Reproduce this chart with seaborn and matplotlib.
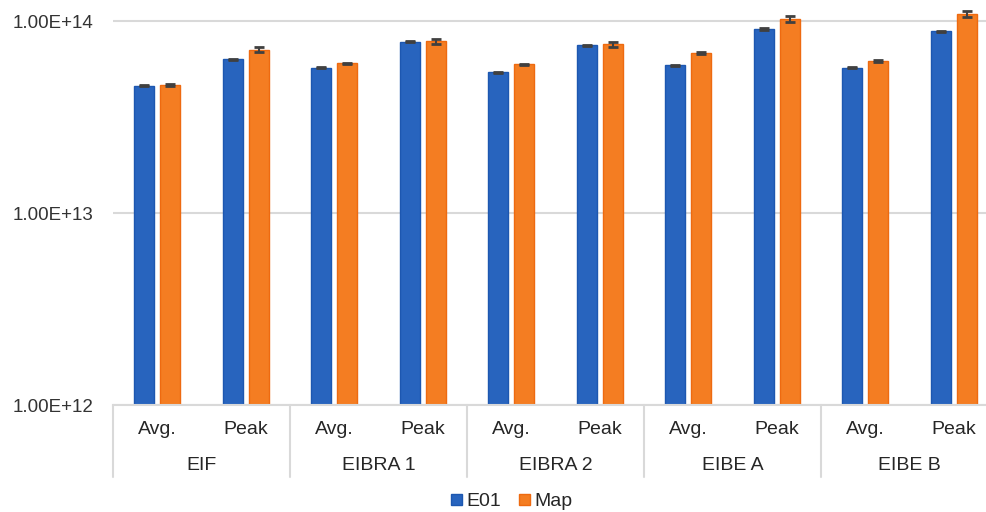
import numpy as np
import pandas as pd
import matplotlib
matplotlib.use("Agg")
import matplotlib.pyplot as plt
import matplotlib.transforms as mtransforms
from matplotlib.patches import Patch
import seaborn as sns

# ---- data ----
groups = ["EIF", "EIBRA 1", "EIBRA 2", "EIBE A", "EIBE B"]
measures = ["Avg.", "Peak"]
series = ["E01", "Map"]

e01_values = [4.59e13, 6.31e13, 5.71e13, 7.78e13, 5.42e13, 7.47e13, 5.88e13, 9.09e13, 5.71e13, 8.84e13]
map_values = [4.65e13, 7.09e13, 6.02e13, 7.84e13, 5.95e13, 7.56e13, 6.81e13, 1.028e14, 6.19e13, 1.092e14]
e01_errors = [3e11, 6e11, 3e11, 5e11, 3e11, 5e11, 3e11, 7e11, 3e11, 6e11]
map_errors = [5e11, 2.0e12, 4e11, 2.2e12, 4e11, 2.5e12, 6e11, 3.5e12, 8e11, 4.0e12]

colors = {"E01": "#2864BE", "Map": "#F47D22"}
edges = {"E01": "#1D57B0", "Map": "#EE6A10"}

slots = [f"{g}|{m}" for g in groups for m in measures]
df = pd.DataFrame({
    "slot": slots * 2,
    "value": e01_values + map_values,
    "series": ["E01"] * len(slots) + ["Map"] * len(slots),
})

sns.set_style("white")
plt.rcParams["font.family"] = ["Liberation Sans", "DejaVu Sans"]

fig = plt.figure(figsize=(9.87, 5.12), dpi=100)
ax = fig.add_axes([113 / 987, 1 - 405 / 512, 885 / 987, 405 / 512])

sns.barplot(data=df, x="slot", y="value", hue="series", order=slots,
            hue_order=series, palette=colors, saturation=1, width=0.59, gap=0.23,
            errorbar=None, legend=False, ax=ax, linewidth=1.0)
ax.set_yscale("log")

# edge colors and error bars per series
errs = {"E01": e01_errors, "Map": map_errors}
vals = {"E01": e01_values, "Map": map_values}
for cont, s in zip(ax.containers, series):
    xs = []
    for p in cont.patches:
        p.set_edgecolor(edges[s])
        xs.append(p.get_x() + p.get_width() / 2)
    ax.errorbar(xs, vals[s], yerr=errs[s], fmt="none", ecolor="#404040",
                elinewidth=1.5, capsize=3.5, capthick=2.0, zorder=5)

ax.set_xlim(-0.5, len(slots) - 0.5)
ax.set_ylim(1e12, 10 ** (14 + 21 / 192))
ax.set_yticks([1e12, 1e13, 1e14])
ax.set_yticklabels(["1.00E+12", "1.00E+13", "1.00E+14"])
ax.yaxis.set_minor_locator(matplotlib.ticker.NullLocator())
ax.tick_params(axis="y", length=0, pad=14, labelsize=13.5, labelcolor="#333333")
ax.set_xticks([])
ax.set_xlabel("")
ax.set_ylabel("")
ax.grid(axis="y", color="#d9d9d9", linewidth=1.5)
ax.set_axisbelow(True)
for side in ["top", "right", "left"]:
    ax.spines[side].set_visible(False)
ax.spines["bottom"].set_color("#d9d9d9")
ax.spines["bottom"].set_linewidth(1.5)

# two-level category axis
trans = mtransforms.blended_transform_factory(ax.transData, ax.transAxes)
h_ax = 405
for i, s in enumerate(slots):
    g, m = s.split("|")
    ax.text(i, -24 / h_ax, m, transform=trans, ha="center", va="center",
            fontsize=14, color="#262626")
for k, g in enumerate(groups):
    ax.text(2 * k + 0.5, -61 / h_ax, g, transform=trans, ha="center",
            va="center", fontsize=14, color="#262626")
for k in range(len(groups) + 1):
    ax.plot([2 * k - 0.5, 2 * k - 0.5], [0, -72 / h_ax], transform=trans,
            color="#d9d9d9", linewidth=1.5, clip_on=False)

handles = [Patch(facecolor=colors[s], edgecolor=edges[s], label=s) for s in series]
fig.legend(handles=handles, loc="center", bbox_to_anchor=(512 / 987, 1 - 502 / 512),
           ncol=2, frameon=False, fontsize=14, handlelength=0.55, handleheight=0.55,
           handletextpad=0.25, columnspacing=0.9, labelcolor="#262626")

fig.savefig("out.png", dpi=100)
